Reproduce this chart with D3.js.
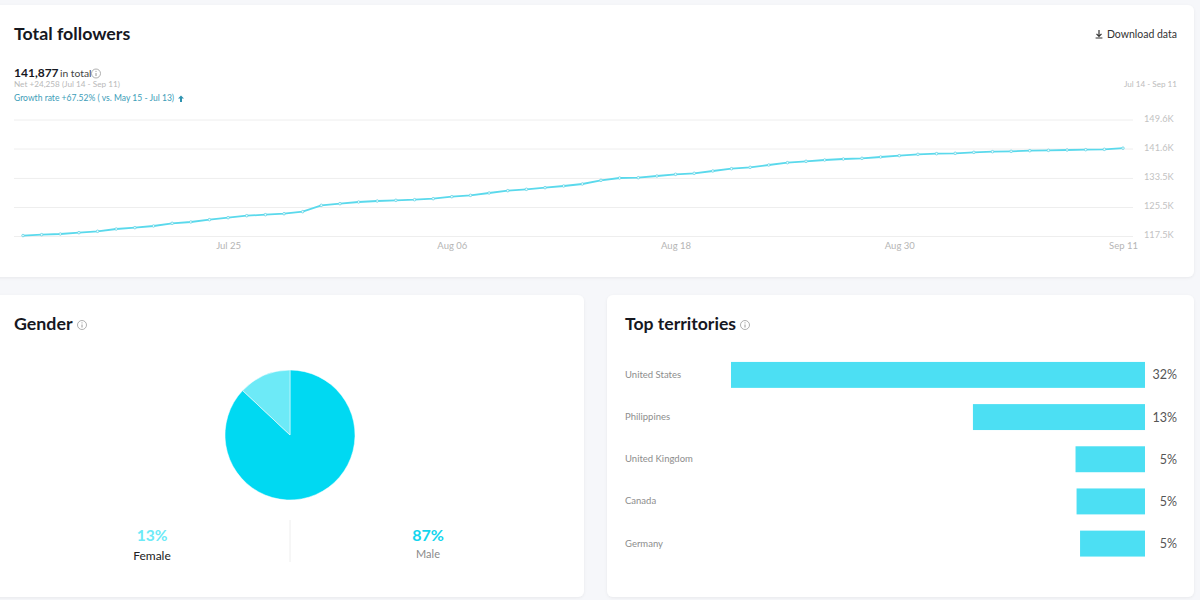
<!DOCTYPE html>
<html><head><meta charset="utf-8">
<script src="https://cdn.jsdelivr.net/npm/d3@7/dist/d3.min.js"></script>
<style>
html,body{margin:0;padding:0;background:#f6f7fa;overflow:hidden}
svg{display:block;font-family:Lato,"Open Sans",sans-serif}
.domain{display:none}
</style></head><body>
<svg id="c" width="1200" height="600"></svg>
<script>
const followers=[117.62,117.86,118.05,118.41,118.80,119.43,119.79,120.26,121.00,121.36,121.99,122.54,123.09,123.37,123.64,124.20,125.96,126.40,126.87,127.14,127.34,127.50,127.78,128.33,128.71,129.35,129.98,130.37,130.81,131.28,131.83,132.85,133.48,133.56,134.03,134.50,134.78,135.41,136.04,136.43,137.06,137.70,138.08,138.44,138.72,138.91,139.27,139.63,140.01,140.18,140.29,140.56,140.73,140.84,141.00,141.11,141.20,141.28,141.39,141.70];
const startDate=new Date(Date.UTC(2021,6,14));
const dateTicks=[new Date(Date.UTC(2021,6,25)),new Date(Date.UTC(2021,7,6)),new Date(Date.UTC(2021,7,18)),new Date(Date.UTC(2021,7,30)),new Date(Date.UTC(2021,8,11))];
const followerTicks=[117.5,125.5,133.5,141.6,149.6];
const genders=["Male","Female"];
const genderValues=[87,13];
const territories=["United States","Philippines","United Kingdom","Canada","Germany"];
const territoryValues=[32,13.3,5.37,5.29,5.02];
const territoryLabels=["32%","13%","5%","5%","5%"];

const svg=d3.select("#c");
const defs=svg.append("defs");
const sh=defs.append("filter").attr("id","sh").attr("x","-2%").attr("y","-2%").attr("width","104%").attr("height","106%");
sh.append("feDropShadow").attr("dx",0).attr("dy",1).attr("stdDeviation",1.5).attr("flood-color","#000").attr("flood-opacity",0.06);

const cards=[[-10,5,1204,272],[-10,295,594,302],[607,295,587,302]];
svg.selectAll("rect.card").data(cards).join("rect").attr("class","card")
  .attr("x",d=>d[0]).attr("y",d=>d[1]).attr("width",d=>d[2]).attr("height",d=>d[3])
  .attr("rx",6).attr("fill","#fff").attr("filter","url(#sh)");

function text(x,y,s,size,fill,weight,anchor){
  return svg.append("text").attr("x",x).attr("y",y).text(s).attr("font-size",size)
    .attr("fill",fill).attr("font-weight",weight||400).attr("text-anchor",anchor||"start");
}
function info(x,y){
  const g=svg.append("g").attr("transform",`translate(${x},${y})`).attr("stroke","#9a9a9a").attr("fill","none");
  g.append("circle").attr("r",4.5).attr("stroke-width",.8);
  g.append("line").attr("x1",0).attr("x2",0).attr("y1",-.5).attr("y2",2.5).attr("stroke-width",1);
  g.append("line").attr("x1",0).attr("x2",0).attr("y1",-2.6).attr("y2",-1.6).attr("stroke-width",1);
}

text(14,40,"Total followers",17.8,"#16181f",700);
text(14,76.5,"141,877",12,"#16181f",700);
text(60,76.5,"in total",10.3,"#444");
info(96,73.5);
text(14,87,"Net +24,258 (Jul 14 - Sep 11)",8.2,"#b9b9b9");
text(14,101,"Growth rate +67.52% ( vs. May 15 - Jul 13)",8.55,"#3d9db8");
svg.append("path").attr("d","M181 95.5l-3 3h2v3.5h2v-3.5h2z").attr("fill","#2f93b0");
text(1177,37.5,"Download data",10.5,"#333",400,"end");
svg.append("path").attr("d","M1099 30v6M1096.5 33.8l2.5 2.6l2.5-2.6M1095.6 38h6.8").attr("stroke","#333").attr("stroke-width",1.2).attr("fill","none");
text(1177,87,"Jul 14 - Sep 11",8.1,"#bdbdbd",400,"end");

const dates=followers.map((_,i)=>d3.utcDay.offset(startDate,i));
const x=d3.scaleUtc().domain([dates[0],dates[dates.length-1]]).range([23,1123]);
const y=d3.scaleLinear().domain([117.5,149.6]).range([236,119.5]);

const yAxis=svg.append("g").attr("transform","translate(1133,0)")
  .call(d3.axisRight(y).tickValues(followerTicks).tickFormat(d=>d.toFixed(1)+"K").tickSize(0).tickPadding(11));
yAxis.selectAll("text").attr("font-size",9.2).attr("fill","#c2c2c2").attr("font-family","Lato").attr("dy","0.2em");
yAxis.selectAll(".tick").append("line").attr("x1",-1119).attr("x2",0).attr("stroke","#eeeeee").attr("stroke-width",1);

const xAxis=svg.append("g").attr("transform","translate(0,236)")
  .call(d3.axisBottom(x).tickValues(dateTicks).tickFormat(d3.utcFormat("%b %d")).tickSize(0).tickPadding(6));
xAxis.selectAll("text").attr("font-size",9.5).attr("fill","#b5b5b5").attr("font-family","Lato");

const line=d3.line().x((d,i)=>x(dates[i])).y(d=>y(d));
svg.append("path").datum(followers).attr("d",line).attr("fill","none").attr("stroke","#5ad9ec").attr("stroke-width",1.8);
svg.selectAll("circle.pt").data(followers).join("circle").attr("class","pt")
  .attr("cx",(d,i)=>x(dates[i])).attr("cy",d=>y(d)).attr("r",1.3)
  .attr("fill","#e6fbfe").attr("stroke","#5ad0e2").attr("stroke-width",.7);

text(14,330,"Gender",17.8,"#16181f",700);
info(82,325);
text(625,330,"Top territories",17.6,"#16181f",700);
info(745,325);

const genderColor=d3.scaleOrdinal().domain(genders).range(["#00d9f2","#6deaf7"]);
const pie=d3.pie().sort(null);
const arc=d3.arc().innerRadius(0).outerRadius(65);
svg.append("g").attr("transform","translate(290,435)")
  .selectAll("path").data(pie(genderValues)).join("path")
  .attr("d",arc).attr("fill",(d,i)=>genderColor(genders[i]))
  .attr("stroke","#fff").attr("stroke-width",.5);

text(152,541,genderValues[1]+"%",15.5,"#6deaf7",700,"middle");
text(152,559.5,genders[1],12,"#222",400,"middle");
text(428,541,genderValues[0]+"%",16,"#12d5ee",700,"middle");
text(428,558,genders[0],11,"#8a8a8a",400,"middle");
svg.append("line").attr("x1",290).attr("x2",290).attr("y1",520).attr("y2",562).attr("stroke","#eeeeee");

const bx=d3.scaleLinear().domain([0,32]).range([1145,731]);
const by=d3.scaleBand().domain(territories).range([353.5,565]).paddingInner(.385).paddingOuter(.2);
svg.selectAll("rect.bar").data(territoryValues).join("rect").attr("class","bar")
  .attr("x",d=>bx(d)).attr("width",d=>1145-bx(d))
  .attr("y",(d,i)=>by(territories[i])).attr("height",by.bandwidth()).attr("fill","#4cdff3");
territories.forEach((t,i)=>{
  const cy=by(t)+by.bandwidth()/2;
  text(625,cy+3,t,9.5,"#8d8d8d");
  text(1177,cy+4.5,territoryLabels[i],12.5,"#555",400,"end");
});
</script></body></html>
